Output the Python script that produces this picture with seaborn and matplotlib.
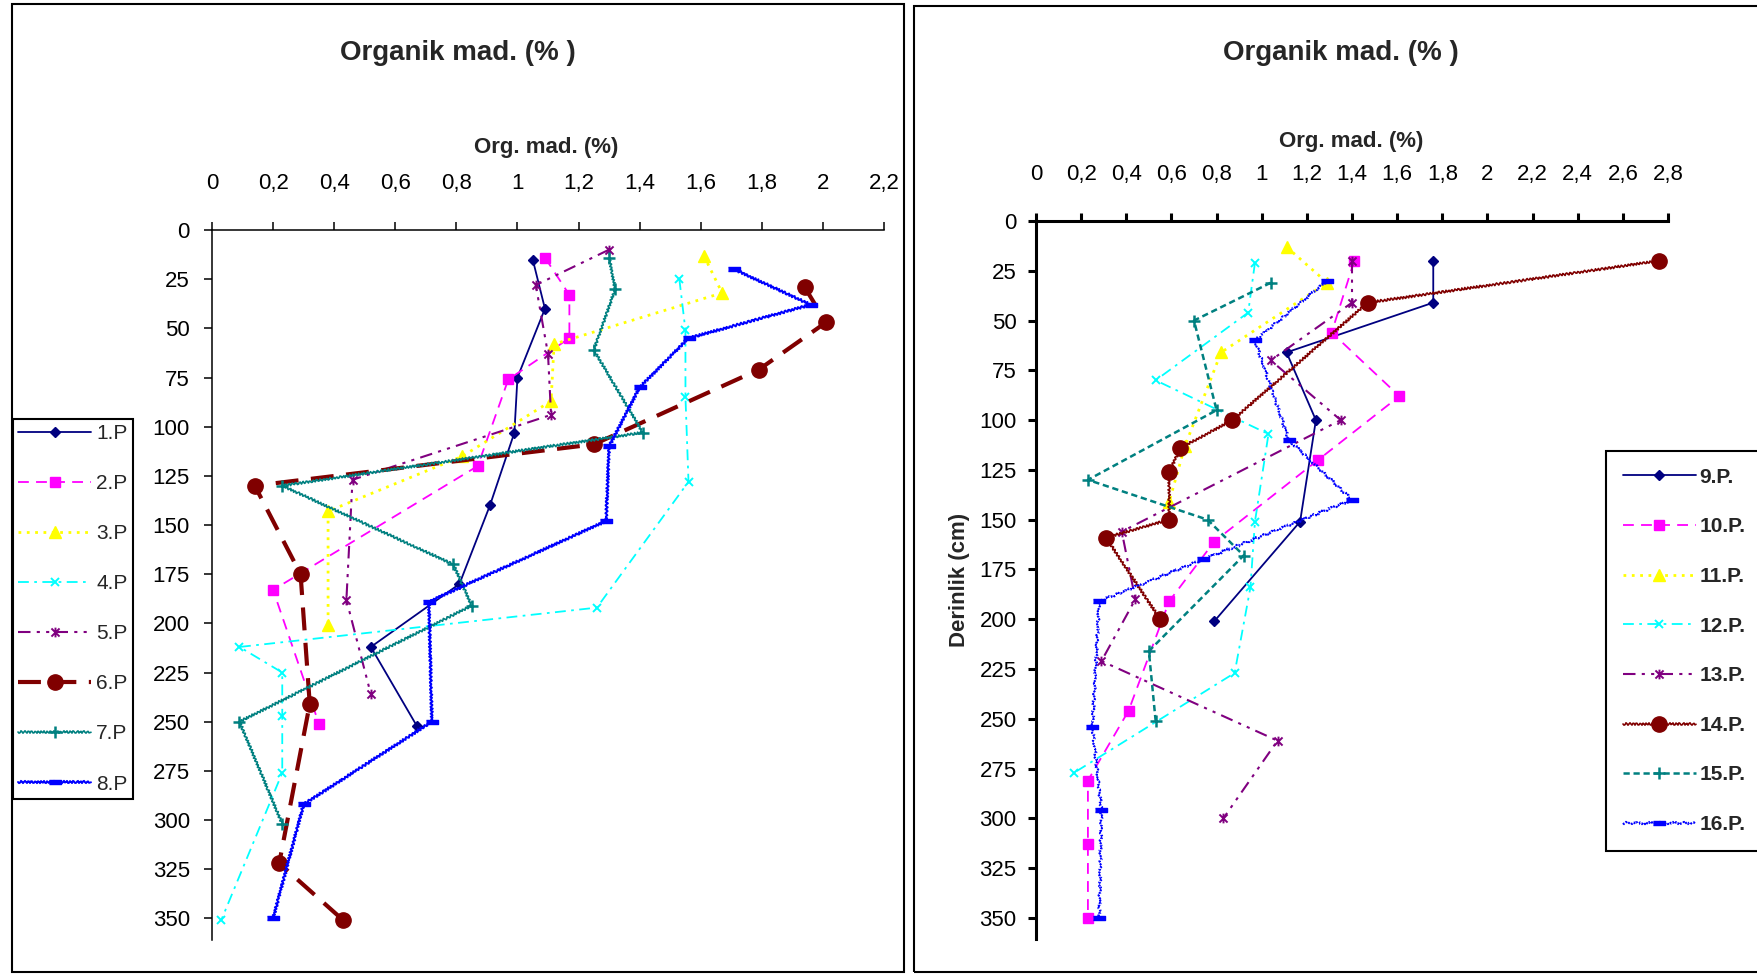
import matplotlib
matplotlib.use("Agg")
import matplotlib.pyplot as plt
from matplotlib.path import Path
from matplotlib.patches import Rectangle
import seaborn as sns

sns.set_style("white")
plt.rcParams["font.family"] = ["Liberation Sans", "DejaVu Sans"]

# ---------------- data: organic matter (%) against depth (cm) ----------------
# profiles 1-8
p1_depth = [15, 40, 75, 103, 140, 180, 212, 252]
p1_om = [1.05, 1.09, 1.00, 0.99, 0.91, 0.81, 0.52, 0.67]
p2_depth = [14, 33, 55, 76, 120, 183, 251]
p2_om = [1.09, 1.17, 1.17, 0.97, 0.87, 0.20, 0.35]
p3_depth = [13, 32, 58, 87, 115, 143, 201]
p3_om = [1.61, 1.67, 1.12, 1.11, 0.82, 0.38, 0.38]
p4_depth = [25, 51, 85, 128, 192, 212, 225, 247, 276, 351]
p4_om = [1.53, 1.55, 1.55, 1.56, 1.26, 0.09, 0.23, 0.23, 0.23, 0.03]
p5_depth = [10, 28, 63, 94, 127, 188, 236]
p5_om = [1.30, 1.06, 1.10, 1.11, 0.46, 0.44, 0.52]
p6_depth = [29, 47, 71, 109, 130, 175, 241, 322, 351]
p6_om = [1.94, 2.01, 1.79, 1.25, 0.14, 0.29, 0.32, 0.22, 0.43]
p7_depth = [14, 30, 61, 103, 130, 170, 191, 250, 302]
p7_om = [1.30, 1.32, 1.25, 1.41, 0.23, 0.79, 0.85, 0.09, 0.23]
p8_depth = [20, 38, 55, 80, 110, 148, 189, 250, 292, 350]
p8_om = [1.71, 1.96, 1.56, 1.40, 1.30, 1.29, 0.71, 0.72, 0.30, 0.20]

# profiles 9-16
p9_depth = [20, 41, 66, 100, 151, 201]
p9_om = [1.76, 1.76, 1.11, 1.24, 1.17, 0.79]
p10_depth = [20, 56, 88, 120, 161, 191, 246, 281, 313, 350]
p10_om = [1.41, 1.31, 1.61, 1.25, 0.79, 0.59, 0.41, 0.23, 0.23, 0.23]
p11_depth = [13, 31, 66, 113, 141]
p11_om = [1.11, 1.29, 0.82, 0.66, 0.59]
p12_depth = [21, 46, 80, 107, 151, 184, 227, 277]
p12_om = [0.97, 0.94, 0.53, 1.03, 0.97, 0.95, 0.88, 0.17]
p13_depth = [20, 41, 70, 100, 156, 190, 221, 261, 300]
p13_om = [1.40, 1.40, 1.04, 1.35, 0.38, 0.44, 0.29, 1.07, 0.83]
p14_depth = [20, 41, 100, 114, 126, 150, 159, 200]
p14_om = [2.76, 1.47, 0.87, 0.64, 0.59, 0.59, 0.31, 0.55]
p15_depth = [31, 50, 95, 130, 150, 168, 216, 251]
p15_om = [1.04, 0.70, 0.80, 0.23, 0.76, 0.92, 0.50, 0.53]
p16_depth = [30, 60, 110, 140, 170, 191, 254, 296, 350]
p16_om = [1.29, 0.97, 1.12, 1.40, 0.74, 0.28, 0.25, 0.29, 0.28]

left_labels = ["1.P", "2.P", "3.P", "4.P", "5.P", "6.P", "7.P", "8.P"]
right_labels = ["9.P.", "10.P.", "11.P.", "12.P.", "13.P.", "14.P.", "15.P.", "16.P."]

left_xticks = [0, 0.2, 0.4, 0.6, 0.8, 1.0, 1.2, 1.4, 1.6, 1.8, 2.0, 2.2]
left_xticklabels = ["0", "0,2", "0,4", "0,6", "0,8", "1", "1,2", "1,4", "1,6", "1,8", "2", "2,2"]
right_xticks = [0, 0.2, 0.4, 0.6, 0.8, 1.0, 1.2, 1.4, 1.6, 1.8, 2.0, 2.2, 2.4, 2.6, 2.8]
right_xticklabels = ["0", "0,2", "0,4", "0,6", "0,8", "1", "1,2", "1,4", "1,6", "1,8",
                     "2", "2,2", "2,4", "2,6", "2,8"]
depth_ticks = [0, 25, 50, 75, 100, 125, 150, 175, 200, 225, 250, 275, 300, 325, 350]

title_text = "Organik mad. (% )"
xlabel_text = "Org. mad. (%)"
ylabel_text = "Derinlik (cm)"

# ---------------- marker shapes and line styles ----------------
STAR = Path([(-1, -1), (1, 1), (-1, 1), (1, -1), (0, -1.2), (0, 1.2)],
            [Path.MOVETO, Path.LINETO, Path.MOVETO, Path.LINETO, Path.MOVETO, Path.LINETO])
BAR = [(-1, -0.35), (1, -0.35), (1, 0.35), (-1, 0.35)]

NAVY, MAGENTA, YELLOW, CYAN = "#000080", "#FF00FF", "#FFFF00", "#00FFFF"
PURPLE, MAROON, TEAL, BLUE = "#800080", "#800000", "#008080", "#0000FF"


def style(color, ls, lw, marker, ms, mew=1.0, wavy=False):
    return dict(color=color, ls=ls, lw=lw, marker=marker, ms=ms, mew=mew, wavy=wavy)


left_styles = [
    style(NAVY, "-", 1.3, "D", 5.5),
    style(MAGENTA, (0, (6, 4)), 1.3, "s", 6.5),
    style(YELLOW, (0, (1, 2)), 2.0, "^", 8),
    style(CYAN, (0, (6, 3, 1.5, 3)), 1.3, "x", 6, 1.4),
    style(PURPLE, (0, (6, 3, 1.5, 3, 1.5, 3)), 1.5, STAR, 7, 1.4),
    style(MAROON, (0, (5.5, 3)), 3.0, "o", 11),
    style(TEAL, "-", 1.2, "+", 9, 1.8, True),
    style(BLUE, "-", 1.4, BAR, 9, 1.0, True),
]
right_styles = [
    style(NAVY, "-", 1.3, "D", 5.5),
    style(MAGENTA, (0, (6, 4)), 1.3, "s", 6.5),
    style(YELLOW, (0, (1, 2)), 2.0, "^", 8),
    style(CYAN, (0, (6, 3, 1.5, 3)), 1.3, "x", 6, 1.4),
    style(PURPLE, (0, (6, 3, 1.5, 3, 1.5, 3)), 1.5, STAR, 7, 1.4),
    style(MAROON, "-", 1.2, "o", 11, 1.0, True),
    style(TEAL, (0, (2.5, 1.5)), 1.8, "+", 9, 1.8),
    style(BLUE, (0, (1, 1)), 1.5, BAR, 9, 1.0, True),
]

left_series = [(p1_depth, p1_om), (p2_depth, p2_om), (p3_depth, p3_om), (p4_depth, p4_om),
               (p5_depth, p5_om), (p6_depth, p6_om), (p7_depth, p7_om), (p8_depth, p8_om)]
right_series = [(p9_depth, p9_om), (p10_depth, p10_om), (p11_depth, p11_om), (p12_depth, p12_om),
                (p13_depth, p13_om), (p14_depth, p14_om), (p15_depth, p15_om), (p16_depth, p16_om)]

# ---------------- figure ----------------
W, H = 1758, 974
fig = plt.figure(figsize=(W / 100, H / 100), dpi=100)
fig.patch.set_facecolor("white")


def px_box(x0, y0, x1, y1):
    return [x0 / W, 1 - y1 / H, (x1 - x0) / W, (y1 - y0) / H]


ax_l = fig.add_axes(px_box(212, 230, 884, 940))
ax_r = fig.add_axes(px_box(1036, 221, 1668, 939))


def draw_profiles(ax, series, styles, labels):
    handles = []
    for (depth, om), st, lab in zip(series, styles, labels):
        sns.lineplot(x=om, y=depth, ax=ax, orient="y", sort=False, estimator=None,
                     label=lab, color=st["color"], linestyle=st["ls"], linewidth=st["lw"],
                     marker=st["marker"], markersize=st["ms"],
                     markeredgewidth=st["mew"], markeredgecolor=st["color"],
                     markerfacecolor=st["color"], clip_on=False)
        line = ax.lines[-1]
        if st["wavy"]:
            line.set_sketch_params(scale=1.2, length=3.5, randomness=1.5)
        handles.append(line)
    return handles


def format_axis(ax, xmax, ymax, xticks, xticklabels, spine_w, ypad):
    ax.set_xlim(0, xmax)
    ax.set_ylim(ymax, 0)
    ax.set_facecolor("none")
    ax.xaxis.tick_top()
    ax.set_xticks(xticks)
    ax.set_xticklabels(xticklabels)
    ax.set_yticks(depth_ticks)
    ax.set_yticklabels([str(t) for t in depth_ticks])
    ax.set_xlabel("")
    ax.set_ylabel("")
    for s in ("bottom", "right"):
        ax.spines[s].set_visible(False)
    for s in ("top", "left"):
        ax.spines[s].set_linewidth(spine_w)
        ax.spines[s].set_color("black")
    ax.tick_params(axis="x", which="both", top=True, bottom=False, direction="out",
                   length=6, width=spine_w, pad=20, labelsize=16, colors="black")
    ax.tick_params(axis="y", which="both", left=True, direction="out",
                   length=6, width=spine_w, pad=ypad, labelsize=16, colors="black")


h_l = draw_profiles(ax_l, left_series, left_styles, left_labels)
h_r = draw_profiles(ax_r, right_series, right_styles, right_labels)

format_axis(ax_l, 2.2, 361, left_xticks, left_xticklabels, 1.1, 10)
format_axis(ax_r, 2.8, 360.6, right_xticks, right_xticklabels, 2.2, 8)

leg_l = ax_l.legend(h_l, left_labels, loc="upper left", bbox_to_anchor=(13 / W, 1 - 419 / H),
                    bbox_transform=fig.transFigure, borderaxespad=0, frameon=True,
                    fancybox=False, edgecolor="black", framealpha=1, fontsize=15,
                    handlelength=3.5, handletextpad=0.25, labelspacing=1.49, borderpad=0.25)
leg_l.get_frame().set_linewidth(1.5)

leg_r = ax_r.legend(h_r, right_labels, loc="upper left", bbox_to_anchor=(1606 / W, 1 - 451 / H),
                    bbox_transform=fig.transFigure, borderaxespad=0, frameon=True,
                    fancybox=False, edgecolor="black", framealpha=1,
                    prop={"size": 15, "weight": "bold"},
                    handlelength=3.5, handletextpad=0.2, labelspacing=1.47, borderpad=0.8)
leg_r.get_frame().set_linewidth(1.5)

# titles and axis labels
fig.text(458 / W, 1 - 53 / H, title_text, ha="center", va="center", fontsize=20, fontweight="bold")
fig.text(1341 / W, 1 - 53 / H, title_text, ha="center", va="center", fontsize=20, fontweight="bold")
fig.text(546 / W, 1 - 148 / H, xlabel_text, ha="center", va="center", fontsize=16, fontweight="bold")
fig.text(1351 / W, 1 - 142 / H, xlabel_text, ha="center", va="center", fontsize=16, fontweight="bold")
fig.text(960 / W, 1 - 580 / H, ylabel_text, ha="center", va="center", rotation=90,
         fontsize=16, fontweight="bold")

# panel frames
fig.add_artist(Rectangle((12 / W, 1 - 972 / H), (904 - 12) / W, (972 - 4) / H,
                         transform=fig.transFigure, fill=False, edgecolor="black", linewidth=1.5))
fig.add_artist(Rectangle((914 / W, 1 - 972 / H), (1780 - 914) / W, (972 - 6) / H,
                         transform=fig.transFigure, fill=False, edgecolor="black", linewidth=1.5))

fig.savefig("out.png", dpi=100)
